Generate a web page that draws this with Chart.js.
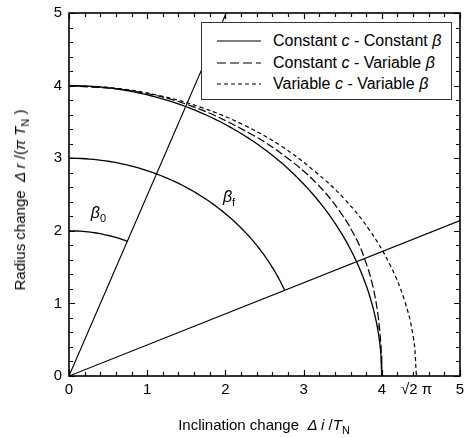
<!DOCTYPE html>
<html>
<head>
<meta charset="utf-8">
<script src="https://cdn.jsdelivr.net/npm/chart.js@4.4.1/dist/chart.umd.min.js"></script>
<style>
html,body{margin:0;padding:0;background:#fff;}
#wrap{position:relative;width:465px;height:438px;font-family:"Liberation Sans",Arial,sans-serif;color:#000;}
#c{position:absolute;left:0;top:0;}
.legend{position:absolute;left:201px;top:22px;width:251px;height:78px;border:1.5px solid #333;background:#fff;box-sizing:border-box;font-size:16px;}
.row{position:absolute;left:0;height:20px;white-space:nowrap;}
.row svg{position:absolute;left:15px;top:4px;}
.row span{position:absolute;left:71px;top:0;line-height:20px;}
.xt{position:absolute;top:415px;left:264px;transform:translateX(-50%);font-size:15px;white-space:nowrap;line-height:20px;}
.yt{position:absolute;left:20px;top:200px;transform:translate(-50%,-50%) rotate(-90deg);font-size:15px;white-space:nowrap;line-height:20px;}
sub{font-size:11px;vertical-align:-4px;line-height:0;}
</style>
</head>
<body>
<div id="wrap">
<canvas id="c" width="465" height="438"></canvas>
<div class="legend">
  <div class="row" style="top:8px"><svg width="46" height="12"><line x1="0" y1="6" x2="44" y2="6" stroke="#555" stroke-width="1.3"/></svg><span>Constant <i>c</i> - Constant <i>β</i></span></div>
  <div class="row" style="top:30px"><svg width="46" height="12"><line x1="0" y1="6" x2="44" y2="6" stroke="#000" stroke-width="1.1" stroke-dasharray="9,4"/></svg><span>Constant <i>c</i> - Variable <i>β</i></span></div>
  <div class="row" style="top:51px"><svg width="46" height="12"><line x1="0" y1="6" x2="44" y2="6" stroke="#000" stroke-width="1.1" stroke-dasharray="4,3"/></svg><span>Variable <i>c</i> - Variable <i>β</i></span></div>
</div>
<div class="xt">Inclination change&nbsp;&nbsp;<i>Δ i</i> /<i>T</i><sub>N</sub></div>
<div class="yt">Radius change&nbsp;&nbsp;<i>Δ r</i> /(<i>π T</i><sub>N</sub> )</div>
</div>
<script>
// ---- data ----
const xTickValues = [0, 1, 2, 3, 4, 4.443, 5];
const xTickLabels = ['0', '1', '2', '3', '4', '√2 π', '5'];
const yTickValues = [0, 1, 2, 3, 4, 5];

// solid arcs (centre at origin): radius, and which ray each ends on (-1 = x axis)
const arcRadius = [4, 3, 2];
const arcEndRay = [-1, 1, 0];

// rays from origin (end points on the frame)
const rayEndX = [2.01, 5];
const rayEndY = [5, 2.14];

// Constant c - Variable beta (long dash)
const ccvbX = [0, 0.834, 1.576, 2.332, 2.796, 3.164, 3.472, 3.680, 3.783, 3.880, 3.951, 3.988, 4.0];
const ccvbY = [4, 3.922, 3.714, 3.330, 2.999, 2.655, 2.255, 1.875, 1.606, 1.261, 0.840, 0.419, 0];

// Variable c - Variable beta (short dash)
const vcvbX = [0, 0.580, 1.150, 1.700, 2.222, 2.705, 3.142, 3.525, 3.848, 4.105, 4.292, 4.405, 4.443];
const vcvbY = [4, 3.966, 3.864, 3.696, 3.464, 3.173, 2.820, 2.435, 2.000, 1.531, 1.035, 0.522, 0];

// ---- build datasets ----
function arcPoints(r, endDeg) {
  const pts = [];
  for (let a = 90; a >= endDeg - 1e-9; a -= 1) {
    const t = a * Math.PI / 180;
    pts.push({x: r * Math.cos(t), y: r * Math.sin(t)});
  }
  const t = endDeg * Math.PI / 180;
  pts.push({x: r * Math.cos(t), y: r * Math.sin(t)});
  return pts;
}
const rayDeg = rayEndX.map((x, i) => Math.atan2(rayEndY[i], x) * 180 / Math.PI);

const datasets = [];
arcRadius.forEach((r, i) => {
  const end = arcEndRay[i] < 0 ? 0 : rayDeg[arcEndRay[i]];
  datasets.push({data: arcPoints(r, end), borderColor: '#000', borderWidth: 1.3, showLine: true, pointRadius: 0, tension: 0});
});
rayEndX.forEach((x, i) => {
  datasets.push({data: [{x: 0, y: 0}, {x: x, y: rayEndY[i]}], borderColor: '#000', borderWidth: 1.1, showLine: true, pointRadius: 0});
});
datasets.push({data: ccvbX.map((x, i) => ({x, y: ccvbY[i]})), borderColor: '#000', borderWidth: 1.2, borderDash: [8, 3], showLine: true, pointRadius: 0, tension: 0.4});
datasets.push({data: vcvbX.map((x, i) => ({x, y: vcvbY[i]})), borderColor: '#000', borderWidth: 1.2, borderDash: [4, 3], showLine: true, pointRadius: 0, tension: 0.4});

const FONT = '"Liberation Sans", Arial, sans-serif';

const framePlugin = {
  id: 'frame',
  afterDraw(chart) {
    const ctx = chart.ctx, a = chart.chartArea;
    const xs = chart.scales.x, ys = chart.scales.y;
    ctx.save();
    ctx.setLineDash([]);
    ctx.strokeStyle = '#000';
    ctx.lineWidth = 1.2;
    // ticks every 0.2, majors at integers, pointing inward on all sides
    ctx.beginPath();
    for (let k = 0; k <= 25; k++) {
      const v = k / 5;
      const len = (k % 5 === 0) ? 6 : 4;
      const px = Math.round(xs.getPixelForValue(v)) + 0.5, py = Math.round(ys.getPixelForValue(v)) + 0.5;
      ctx.moveTo(px, a.bottom); ctx.lineTo(px, a.bottom - len);
      ctx.moveTo(px, a.top); ctx.lineTo(px, a.top + len);
      ctx.moveTo(a.left, py); ctx.lineTo(a.left + len, py);
      ctx.moveTo(a.right, py); ctx.lineTo(a.right - len, py);
    }
    ctx.stroke();
    ctx.lineWidth = 1.6;
    ctx.strokeRect(a.left, a.top, a.right - a.left, a.bottom - a.top);
    // beta labels
    function beta(x, y, sub) {
      const px = xs.getPixelForValue(x), py = ys.getPixelForValue(y);
      ctx.fillStyle = '#000';
      ctx.textBaseline = 'alphabetic';
      ctx.textAlign = 'left';
      ctx.font = 'italic 16px ' + FONT;
      ctx.fillText('β', px, py);
      const w = ctx.measureText('β').width;
      ctx.font = '11px ' + FONT;
      ctx.fillText(sub, px + w, py + 4);
    }
    beta(0.278, 2.17, '0');
    beta(1.968, 2.40, 'f');
    ctx.restore();
  }
};

function noPad(s) { s.paddingTop = 0; s.paddingBottom = 0; s.paddingLeft = 0; s.paddingRight = 0; }

new Chart(document.getElementById('c'), {
  type: 'scatter',
  data: {datasets},
  options: {
    responsive: false,
    animation: false,
    devicePixelRatio: 1,
    layout: {padding: {top: 13, right: 5, left: 0, bottom: 0}},
    plugins: {legend: {display: false}, tooltip: {enabled: false}},
    scales: {
      x: {
        type: 'linear', min: 0, max: 5,
        grid: {display: false, drawTicks: false},
        border: {display: false},
        afterBuildTicks: s => { s.ticks = xTickValues.map(v => ({value: v})); },
        afterFit: s => { s.height = 62; noPad(s); },
        ticks: {autoSkip: false, maxRotation: 0, padding: 5, color: '#000', font: {family: FONT, size: 15},
          callback: (v, i) => xTickLabels[i]}
      },
      y: {
        type: 'linear', min: 0, max: 5,
        grid: {display: false, drawTicks: false},
        border: {display: false},
        afterBuildTicks: s => { s.ticks = yTickValues.map(v => ({value: v})); },
        afterFit: s => { s.width = 69; noPad(s); },
        ticks: {autoSkip: false, padding: 7, color: '#000', font: {family: FONT, size: 15},
          callback: (v, i) => String(yTickValues[i])}
      }
    }
  },
  plugins: [framePlugin]
});
</script>
</body>
</html>
